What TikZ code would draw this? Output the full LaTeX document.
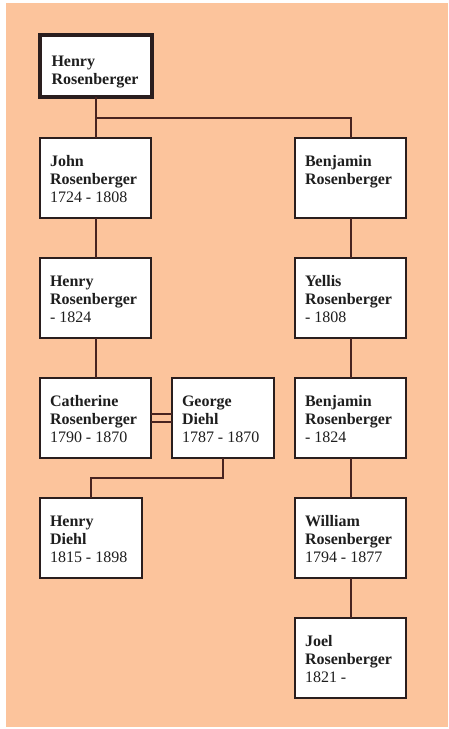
\documentclass[tikz,border=0pt]{standalone}
\usepackage{fontspec}
\setmainfont{Liberation Serif}
\definecolor{peach}{RGB}{252,196,156}
\definecolor{bordercol}{RGB}{42,30,30}
\definecolor{linecol}{RGB}{72,36,32}
\definecolor{txt}{RGB}{30,30,30}
% width, height, left inset, first baseline, text
\newcommand{\card}[5]{\parbox[c][#2][t]{#1}{\fontsize{16}{18}\selectfont\color{txt}\leftskip=#3\rightskip=0pt plus 1fil\noindent\rule{0pt}{#4}#5}}
\begin{document}
\begin{tikzpicture}[x=1pt,y=-1pt,
  box/.style={draw=bordercol, fill=white, line width=2pt, inner sep=0pt, outer sep=0pt, anchor=north west},
  conn/.style={draw=linecol, line width=2pt}]
\useasboundingbox (0,0) rectangle (448,729);
\fill[peach] (6,3) rectangle (448,727);

\coordinate (bus) at (0,118);
\coordinate (bus2) at (0,478);

% boxes
\node[box, line width=4pt] (root) at (39.5,35) {\card{112pt}{62pt}{12pt}{31.5pt}{\textbf{Henry}\\\textbf{Rosenberger}}};
\node[box] (john) at (40,138) {\card{111pt}{80pt}{10pt}{28.7pt}{\textbf{John}\\\textbf{Rosenberger}\\1724 - 1808}};
\node[box] (benj1) at (295,138) {\card{111pt}{80pt}{10pt}{28.7pt}{\textbf{Benjamin}\\\textbf{Rosenberger}}};
\node[box] (henry2) at (40,258) {\card{111pt}{80pt}{10pt}{28.7pt}{\textbf{Henry}\\\textbf{Rosenberger}\\- 1824}};
\node[box] (yellis) at (295,258) {\card{111pt}{80pt}{10pt}{28.7pt}{\textbf{Yellis}\\\textbf{Rosenberger}\\- 1808}};
\node[box] (cath) at (40,378) {\card{111pt}{80pt}{10pt}{28.7pt}{\textbf{Catherine}\\\textbf{Rosenberger}\\1790 - 1870}};
\node[box] (george) at (172,378) {\card{102pt}{80pt}{10pt}{28.7pt}{\textbf{George}\\\textbf{Diehl}\\1787 - 1870}};
\node[box] (benj2) at (295,378) {\card{111pt}{80pt}{10pt}{28.7pt}{\textbf{Benjamin}\\\textbf{Rosenberger}\\- 1824}};
\node[box] (hdiehl) at (40,498) {\card{102pt}{80pt}{10pt}{28.7pt}{\textbf{Henry}\\\textbf{Diehl}\\1815 - 1898}};
\node[box] (william) at (295,498) {\card{111pt}{80pt}{10pt}{28.7pt}{\textbf{William}\\\textbf{Rosenberger}\\1794 - 1877}};
\node[box] (joel) at (295,618) {\card{111pt}{80pt}{10pt}{28.7pt}{\textbf{Joel}\\\textbf{Rosenberger}\\1821 -}};

% connectors
\draw[conn] (root.south) -- (john.north);
\draw[conn] (root.south |- bus) -| (benj1.north);
\draw[conn] (john.south) -- (henry2.north);
\draw[conn] (henry2.south) -- (cath.north);
\draw[conn] ([yshift=4pt]cath.east) -- ([yshift=4pt]george.west);
\draw[conn] ([yshift=-4pt]cath.east) -- ([yshift=-4pt]george.west);
\draw[conn] (george.south) -- (george.south |- bus2) -| (hdiehl.north);
\draw[conn] (benj1.south) -- (yellis.north);
\draw[conn] (yellis.south) -- (benj2.north);
\draw[conn] (benj2.south) -- (william.north);
\draw[conn] (william.south) -- (joel.north);
\end{tikzpicture}
\end{document}
